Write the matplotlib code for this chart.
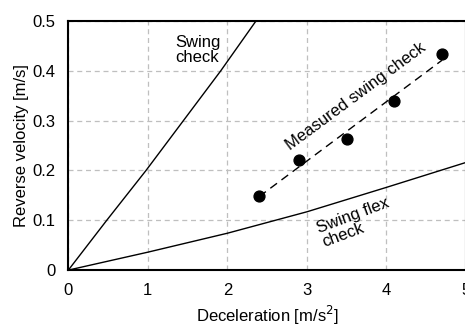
import numpy as np
import matplotlib
matplotlib.use("Agg")
import matplotlib.pyplot as plt
from matplotlib.ticker import FuncFormatter

plt.rcParams['font.family'] = ['Liberation Sans', 'DejaVu Sans']

# Data
swing_x = [0, 0.483, 0.977, 1.447, 1.917, 2.36]
swing_y = [0, 0.1, 0.2, 0.3, 0.4, 0.5]

flex_x = [0, 1, 2, 3, 4, 5]
flex_y = [0, 0.036, 0.074, 0.117, 0.166, 0.216]

meas_x = [2.4, 2.9, 3.5, 4.1, 4.7]
meas_y = [0.148, 0.220, 0.263, 0.340, 0.433]

xticks = [0, 1, 2, 3, 4, 5]
yticks = [0, 0.1, 0.2, 0.3, 0.4, 0.5]

fig = plt.figure(figsize=(4.65, 3.27), dpi=100)
ax = fig.add_axes([0.147, 0.174, 0.855, 0.762])

ax.plot(swing_x, swing_y, color='black', lw=1.0)
ax.plot(flex_x, flex_y, color='black', lw=1.0)

coef = np.polyfit(meas_x, meas_y, 1)
fx = np.array([meas_x[0], meas_x[-1]])
ax.plot(fx, np.polyval(coef, fx), color='black', lw=1.0, ls=(0, (6, 4)))
ax.plot(meas_x, meas_y, 'o', color='black', ms=7.8, zorder=5, clip_on=False)

ax.text(1.34, 0.472, "Swing\ncheck", fontsize=12, ha='left', va='top', linespacing=1.05)
ax.text(3.61, 0.348, "Measured swing check", fontsize=12, rotation=36.5,
        ha='center', va='center', rotation_mode='anchor')
ax.text(3.61, 0.096, "Swing flex\ncheck", fontsize=12, rotation=20.5,
        ha='center', va='center', multialignment='left', linespacing=1.0,
        rotation_mode='anchor')

ax.set_xlim(0, 5)
ax.set_ylim(0, 0.5)
ax.set_xticks(xticks)
ax.set_yticks(yticks)
ax.xaxis.set_major_formatter(FuncFormatter(lambda v, p: f"{v:g}"))
ax.yaxis.set_major_formatter(FuncFormatter(lambda v, p: f"{v:g}"))
ax.tick_params(length=0, labelsize=12)
ax.tick_params(axis='y', pad=9)
ax.tick_params(axis='x', pad=9)
ax.grid(True, color='#bfbfbf', ls=(0, (4, 3)), lw=0.9)
ax.set_axisbelow(True)
for s in ax.spines.values():
    s.set_linewidth(1.5)
    s.set_color('black')

ax.set_xlabel("Deceleration [m/s$^2$]", fontsize=12, labelpad=4.5)
ax.set_ylabel("Reverse velocity [m/s]", fontsize=12, labelpad=3)

fig.savefig("out.png", dpi=100)
